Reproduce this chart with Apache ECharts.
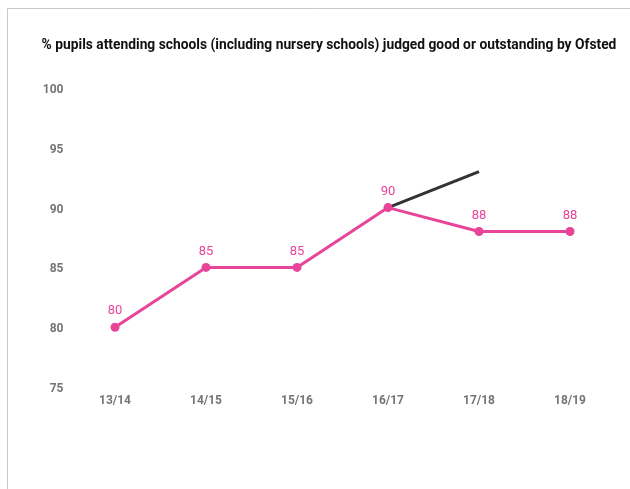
<!DOCTYPE html>
<html>
<head>
<meta charset="utf-8">
<script src="https://cdn.jsdelivr.net/npm/echarts@6/dist/echarts.min.js"></script>
<style>
  html, body { margin: 0; padding: 0; background: #fff; }
  #chart { width: 630px; height: 489px; }
</style>
</head>
<body>
<div id="chart"></div>
<script>
// School years shown on the x axis
var years = ['13/14', '14/15', '15/16', '16/17', '17/18', '18/19'];
// % of pupils in good or outstanding schools
var pupilsPct = [80, 85, 85, 90, 88, 88];
// Projected trajectory from 16/17
var targetPct = [null, null, null, 90, 93, null];
// Y axis range
var yMin = 75, yMax = 100, yStep = 5;

var pink = '#e8449a';
var chart = echarts.init(document.getElementById('chart'));
chart.setOption({
  animation: false,
  backgroundColor: '#fff',
  title: {
    text: '% pupils attending schools (including nursery schools) judged good or outstanding by Ofsted',
    left: 324,
    textAlign: 'center',
    top: 34,
    textStyle: { fontFamily: 'Roboto', fontWeight: 'bold', fontSize: 13.8, color: '#111' }
  },
  graphic: [
    { type: 'line', shape: { x1: 7.5, y1: 8.5, x2: 630, y2: 8.5 }, style: { stroke: '#c8c8c8', lineWidth: 1 } },
    { type: 'line', shape: { x1: 7.5, y1: 8.5, x2: 7.5, y2: 489 }, style: { stroke: '#c8c8c8', lineWidth: 1 } }
  ],
  grid: { left: 69.5, right: 14.5, top: 88, bottom: 102, containLabel: false },
  xAxis: {
    type: 'category',
    data: years,
    boundaryGap: true,
    axisLine: { show: false },
    axisTick: { show: false },
    axisLabel: { color: '#757575', fontFamily: 'Roboto', fontWeight: 'bold', fontSize: 12, margin: 8 }
  },
  yAxis: {
    type: 'value',
    min: yMin, max: yMax, interval: yStep,
    axisLine: { show: false },
    axisTick: { show: false },
    splitLine: { show: false },
    axisLabel: {
      margin: 6,
      formatter: function (v) { return '{t|' + v + '}'; },
      rich: {
        t: { color: '#757575', fontFamily: 'Roboto', fontWeight: 'bold', fontSize: 12, padding: [4, 0, 0, 0] }
      }
    }
  },
  series: [
    {
      type: 'line',
      data: targetPct,
      showSymbol: false,
      symbol: 'none',
      lineStyle: { color: '#333', width: 3 },
      z: 1
    },
    {
      type: 'line',
      data: pupilsPct,
      symbol: 'circle',
      symbolSize: 9,
      itemStyle: { color: pink },
      lineStyle: { color: pink, width: 3 },
      label: {
        show: true,
        position: 'top',
        distance: 5,
        color: pink,
        fontFamily: 'Roboto',
        fontSize: 13
      },
      z: 2
    }
  ]
});
</script>
</body>
</html>
